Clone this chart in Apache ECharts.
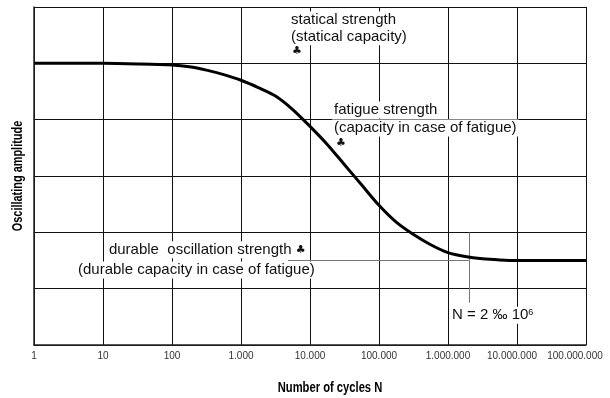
<!DOCTYPE html>
<html>
<head>
<meta charset="utf-8">
<script src="https://cdn.jsdelivr.net/npm/echarts@6/dist/echarts.min.js"></script>
<style>
  html, body { margin: 0; padding: 0; background: #fff; }
  #chart { width: 610px; height: 398px; }
</style>
</head>
<body>
<div id="chart"></div>
<script>
// S-N curve (quarter decades where it bends)
const cycles = [1, 10, 31.6, 100, 178, 316, 562, 1000, 1778, 3162, 5623, 10000, 17783, 31623, 56234,
  100000, 177828, 316228, 562341, 1000000, 1778279, 3162278, 5623413, 10000000, 100000000];
const amplitude = [5, 5, 4.99, 4.97, 4.94, 4.88, 4.8, 4.7, 4.57, 4.42, 4.18, 3.88, 3.56, 3.2, 2.84,
  2.48, 2.18, 1.96, 1.78, 1.64, 1.57, 1.53, 1.51, 1.5, 1.5];

// reference lines
const limitN = 2000000;
const limitRange = [2, 0.75];
const durableFrom = 4800;
const durableLevel = 1.5;

// axis titles
const xTitle = 'Number of cycles N';
const yTitle = 'Oscillating amplitude';

// annotation lines (anchored in data space: cycles, amplitude)
const annoText = [
  'statical strength',
  '(statical capacity)',
  '{club|♣}',
  'fatigue strength',
  '(capacity in case of fatigue)',
  '{club|♣}',
  'durable  oscillation strength {club|♣}',
  '(durable capacity in case of fatigue)',
  'N = 2 ‰ 10{sup|6}'
];
const annoN = [4960, 4960, 5130, 20840, 20840, 22280, 11.4, 4.06, 1070000];
const annoValue = [5.77, 5.47, 5.22, 4.17, 3.85, 3.59, 1.69, 1.33, 0.53];

const fmt = v => String(Math.round(v)).replace(/\B(?=(\d{3})+(?!\d))/g, '.');

var chart = echarts.init(document.getElementById('chart'), null, { renderer: 'canvas' });

chart.setOption({
  animation: false,
  grid: { left: 34, right: 24, top: 7, bottom: 53 },
  xAxis: {
    type: 'log',
    logBase: 10,
    min: 1,
    max: 100000000,
    axisLine: { lineStyle: { color: '#222', width: 1.5 } },
    axisTick: { show: false },
    axisLabel: {
      margin: 6,
      fontFamily: 'Liberation Sans',
      fontSize: 10,
      color: '#333',
      formatter: function (v) {
        if (v >= 100000000) return '{r2|' + fmt(v) + '}';
        if (v >= 10000000) return '{r1|' + fmt(v) + '}';
        return fmt(v);
      },
      rich: {
        r1: { fontFamily: 'Liberation Sans', fontSize: 10, color: '#333', padding: [0, 10, 0, 0] },
        r2: { fontFamily: 'Liberation Sans', fontSize: 10, color: '#333', padding: [0, 22, 0, 0] }
      }
    },
    splitLine: { show: true, lineStyle: { color: '#111', width: 1 } }
  },
  yAxis: {
    type: 'value',
    min: 0,
    max: 6,
    interval: 1,
    axisLine: { show: true, lineStyle: { color: '#222', width: 1.5 } },
    axisTick: { show: false },
    axisLabel: { show: false },
    splitLine: { show: true, lineStyle: { color: '#111', width: 1 } }
  },
  series: [
    {
      type: 'line',
      data: cycles.map((n, i) => [n, amplitude[i]]),
      smooth: 0.3,
      showSymbol: false,
      lineStyle: { color: '#000', width: 3, join: 'round' },
      z: 5,
      markLine: {
        silent: true,
        symbol: 'none',
        label: { show: false },
        lineStyle: { color: '#777', width: 1, type: 'solid' },
        data: [
          [{ coord: [limitN, limitRange[0]] }, { coord: [limitN, limitRange[1]] }],
          [{ coord: [durableFrom, durableLevel] }, { coord: [limitN, durableLevel] }]
        ]
      }
    }
  ]
});

// place annotation text through the chart's own coordinate conversion
var graphics = annoText.map((t, i) => {
  var p = chart.convertToPixel({ gridIndex: 0 }, [annoN[i], annoValue[i]]);
  return {
    type: 'text',
    x: p[0],
    y: p[1],
    z: 10,
    style: {
      text: t,
      fontFamily: 'Liberation Sans',
      fontSize: 15,
      fill: '#111',
      align: 'left',
      verticalAlign: 'middle',
      backgroundColor: '#fff',
      padding: [1, 2],
      rich: {
        sup: { fontSize: 9, fill: '#111', verticalAlign: 'top', padding: [0, 0, 6, 0] },
        club: { fontSize: 11, fill: '#111', fontFamily: 'DejaVu Sans' }
      }
    }
  };
});

// condensed bold axis titles, centred on the plot area
var lo = chart.convertToPixel({ gridIndex: 0 }, [1, 0]);
var hi = chart.convertToPixel({ gridIndex: 0 }, [100000000, 6]);
var titleStyle = {
  fontFamily: 'Liberation Sans',
  fontWeight: 'bold',
  fontSize: 14,
  fill: '#000',
  align: 'center',
  verticalAlign: 'middle'
};
graphics.push({
  type: 'text',
  x: (lo[0] + hi[0]) / 2 + 20,
  y: lo[1] + 43,
  scaleX: 0.8,
  style: Object.assign({ text: xTitle }, titleStyle)
});
graphics.push({
  type: 'text',
  x: lo[0] - 16,
  y: (lo[1] + hi[1]) / 2,
  rotation: Math.PI / 2,
  scaleX: 0.78,
  style: Object.assign({ text: yTitle }, titleStyle)
});
chart.setOption({ graphic: graphics });
</script>
</body>
</html>
